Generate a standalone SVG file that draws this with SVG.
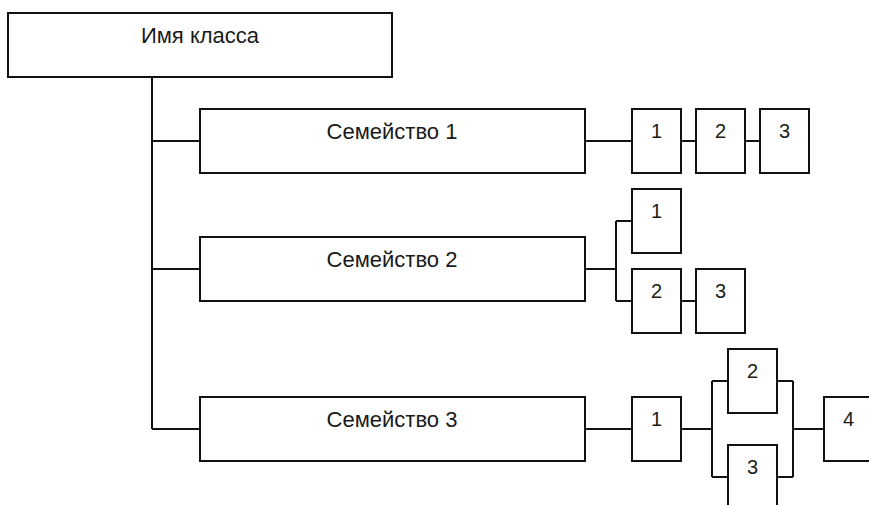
<svg xmlns="http://www.w3.org/2000/svg" width="869" height="505" viewBox="0 0 869 505">
<style>
rect{fill:#fff;stroke:#111;stroke-width:2}
.c path{fill:none;stroke:#111;stroke-width:2}
text{font-family:"Liberation Sans",Arial,sans-serif;font-size:22px;fill:#1a1a1a;text-anchor:middle}
.d{font-size:20px}
</style>
<rect x="0" y="0" width="869" height="505" style="stroke:none"/>
<g class="c" id="connectors">
<path d="M152 77V429M152 141H200M152 269H200M152 429H200"/>
<path d="M585 141H632M681 141H696M745 141H760"/>
<path d="M585 269H616M616 221V301M616 221H632M616 301H632M681 301H696"/>
<path d="M585 429H632M681 429H712M712 381V477M712 381H728M712 477H728M777 381H793M777 477H793M793 381V477M793 429H824"/>
</g>
<g id="class"><rect x="8" y="13" width="384" height="64"/><text x="200" y="43">Имя класса</text></g>
<g id="fam1"><rect x="200" y="109" width="385" height="64"/><text x="392" y="139">Семейство 1</text></g>
<g id="fam2"><rect x="200" y="237" width="385" height="64"/><text x="392" y="267">Семейство 2</text></g>
<g id="fam3"><rect x="200" y="397" width="385" height="64"/><text x="392" y="427">Семейство 3</text></g>
<g id="f1b1"><rect x="632" y="109" width="49" height="64"/><text class="d" x="656.5" y="138">1</text></g>
<g id="f1b2"><rect x="696" y="109" width="49" height="64"/><text class="d" x="720.5" y="138">2</text></g>
<g id="f1b3"><rect x="760" y="109" width="49" height="64"/><text class="d" x="784.5" y="138">3</text></g>
<g id="f2b1"><rect x="632" y="189" width="49" height="64"/><text class="d" x="656.5" y="218">1</text></g>
<g id="f2b2"><rect x="632" y="269" width="49" height="64"/><text class="d" x="656.5" y="298">2</text></g>
<g id="f2b3"><rect x="696" y="269" width="49" height="64"/><text class="d" x="720.5" y="298">3</text></g>
<g id="f3b1"><rect x="632" y="397" width="49" height="64"/><text class="d" x="656.5" y="426">1</text></g>
<g id="f3b2"><rect x="728" y="349" width="49" height="64"/><text class="d" x="752.5" y="378">2</text></g>
<g id="f3b3"><rect x="728" y="445" width="49" height="64"/><text class="d" x="752.5" y="474">3</text></g>
<g id="f3b4"><rect x="824" y="397" width="49" height="64"/><text class="d" x="848.5" y="426">4</text></g>
</svg>
